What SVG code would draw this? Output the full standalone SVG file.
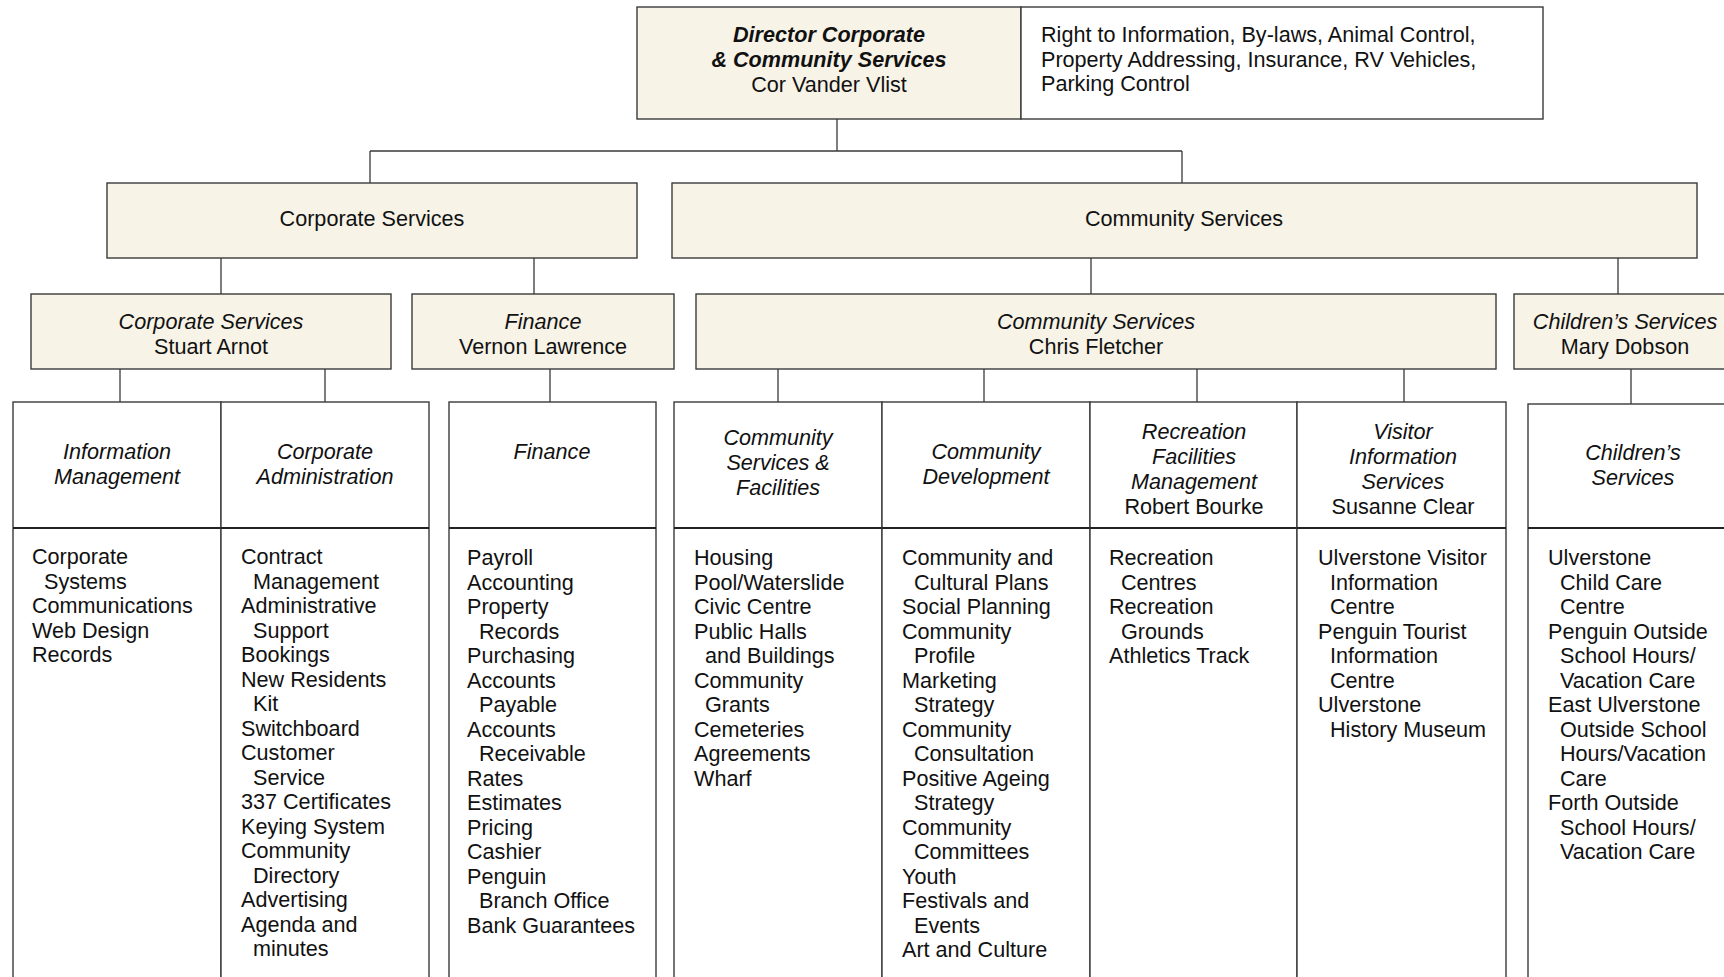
<svg xmlns="http://www.w3.org/2000/svg" width="1724" height="977" viewBox="0 0 1724 977">
  <style>
    text { font-family: "Liberation Sans", Arial, sans-serif; font-size: 21.6px; fill: #111; }
    .c { text-anchor: middle; }
    .i { font-style: italic; }
    .bi { font-style: italic; font-weight: bold; }
    .box { fill: #f7f3e7; stroke: #3a3a3a; stroke-width: 1.4; }
    .wbox { fill: #ffffff; stroke: #3a3a3a; stroke-width: 1.4; }
    .div { stroke: #3a3a3a; stroke-width: 1.4; fill: none; }
    .hdiv { stroke: #222; stroke-width: 1.8; fill: none; }
    .conn { stroke: #3a3a3a; stroke-width: 1.3; fill: none; }
  </style>

  <!-- connectors -->
  <g id="connectors">
    <path class="conn" d="M837 119 V151 M370 151 H1182 M370 151 V183 M1182 151 V183"/>
    <path class="conn" d="M221 258 V294 M534 258 V294 M1091 258 V294 M1618 258 V294"/>
    <path class="conn" d="M120 369 V402 M325 369 V402 M550 369 V402 M778 369 V402 M984 369 V402 M1197 369 V402 M1404 369 V402 M1631 369 V404"/>
  </g>

  <!-- director -->
  <g id="director">
    <rect class="box" x="637" y="7" width="384" height="112"/>
    <rect class="wbox" x="1021" y="7" width="522" height="112"/>
    <text class="c bi" x="829" y="42">Director Corporate</text>
    <text class="c bi" x="829" y="66.5">&amp; Community Services</text>
    <text class="c" x="829" y="91.5">Cor Vander Vlist</text>
    <text x="1041" y="42">Right to Information, By-laws, Animal Control,</text>
    <text x="1041" y="66.5">Property Addressing, Insurance, RV Vehicles,</text>
    <text x="1041" y="91">Parking Control</text>
  </g>

  <!-- second level -->
  <g id="corporate-services">
    <rect class="box" x="107" y="183" width="530" height="75"/>
    <text class="c" x="372" y="226">Corporate Services</text>
  </g>
  <g id="community-services">
    <rect class="box" x="672" y="183" width="1025" height="75"/>
    <text class="c" x="1184" y="226">Community Services</text>
  </g>

  <!-- third level -->
  <g id="corp-stuart-arnot">
    <rect class="box" x="31" y="294" width="360" height="75"/>
    <text class="c i" x="211" y="329">Corporate Services</text>
    <text class="c" x="211" y="353.5">Stuart Arnot</text>
  </g>
  <g id="finance-vernon-lawrence">
    <rect class="box" x="412" y="294" width="262" height="75"/>
    <text class="c i" x="543" y="329">Finance</text>
    <text class="c" x="543" y="353.5">Vernon Lawrence</text>
  </g>
  <g id="community-chris-fletcher">
    <rect class="box" x="696" y="294" width="800" height="75"/>
    <text class="c i" x="1096" y="329">Community Services</text>
    <text class="c" x="1096" y="353.5">Chris Fletcher</text>
  </g>
  <g id="childrens-mary-dobson">
    <rect class="box" x="1514" y="294" width="230" height="75"/>
    <text class="c i" x="1625" y="329">Children’s Services</text>
    <text class="c" x="1625" y="353.5">Mary Dobson</text>
  </g>

  <!-- fourth level: corporate group -->
  <g id="information-management">
    <rect class="wbox" x="13" y="402" width="208" height="600"/>
    <line class="hdiv" x1="13" y1="528" x2="221" y2="528"/>
    <text class="c i" x="117" y="459">Information</text>
    <text class="c i" x="117" y="483.5">Management</text>
    <text x="32" y="564">Corporate</text>
    <text x="44" y="588.5">Systems</text>
    <text x="32" y="613">Communications</text>
    <text x="32" y="637.5">Web Design</text>
    <text x="32" y="662">Records</text>
  </g>
  <g id="corporate-administration">
    <rect class="wbox" x="221" y="402" width="208" height="600"/>
    <line class="hdiv" x1="221" y1="528" x2="429" y2="528"/>
    <text class="c i" x="325" y="459">Corporate</text>
    <text class="c i" x="325" y="483.5">Administration</text>
    <text x="241" y="564">Contract</text>
    <text x="253" y="588.5">Management</text>
    <text x="241" y="613">Administrative</text>
    <text x="253" y="637.5">Support</text>
    <text x="241" y="662">Bookings</text>
    <text x="241" y="686.5">New Residents</text>
    <text x="253" y="711">Kit</text>
    <text x="241" y="735.5">Switchboard</text>
    <text x="241" y="760">Customer</text>
    <text x="253" y="784.5">Service</text>
    <text x="241" y="809">337 Certificates</text>
    <text x="241" y="833.5">Keying System</text>
    <text x="241" y="858">Community</text>
    <text x="253" y="882.5">Directory</text>
    <text x="241" y="907">Advertising</text>
    <text x="241" y="931.5">Agenda and</text>
    <text x="253" y="956">minutes</text>
  </g>

  <!-- fourth level: finance -->
  <g id="finance">
    <rect class="wbox" x="449" y="402" width="207" height="600"/>
    <line class="hdiv" x1="449" y1="528" x2="656" y2="528"/>
    <text class="c i" x="552" y="459">Finance</text>
    <text x="467" y="565">Payroll</text>
    <text x="467" y="589.5">Accounting</text>
    <text x="467" y="614">Property</text>
    <text x="479" y="638.5">Records</text>
    <text x="467" y="663">Purchasing</text>
    <text x="467" y="687.5">Accounts</text>
    <text x="479" y="712">Payable</text>
    <text x="467" y="736.5">Accounts</text>
    <text x="479" y="761">Receivable</text>
    <text x="467" y="785.5">Rates</text>
    <text x="467" y="810">Estimates</text>
    <text x="467" y="834.5">Pricing</text>
    <text x="467" y="859">Cashier</text>
    <text x="467" y="883.5">Penguin</text>
    <text x="479" y="908">Branch Office</text>
    <text x="467" y="932.5">Bank Guarantees</text>
  </g>

  <!-- fourth level: community group -->
  <g id="community-services-facilities">
    <rect class="wbox" x="674" y="402" width="208" height="600"/>
    <line class="hdiv" x1="674" y1="528" x2="882" y2="528"/>
    <text class="c i" x="778" y="445">Community</text>
    <text class="c i" x="778" y="470">Services &amp;</text>
    <text class="c i" x="778" y="494.5">Facilities</text>
    <text x="694" y="565">Housing</text>
    <text x="694" y="589.5">Pool/Waterslide</text>
    <text x="694" y="614">Civic Centre</text>
    <text x="694" y="638.5">Public Halls</text>
    <text x="705" y="663">and Buildings</text>
    <text x="694" y="687.5">Community</text>
    <text x="705" y="712">Grants</text>
    <text x="694" y="736.5">Cemeteries</text>
    <text x="694" y="761">Agreements</text>
    <text x="694" y="785.5">Wharf</text>
  </g>
  <g id="community-development">
    <rect class="wbox" x="882" y="402" width="208" height="600"/>
    <line class="hdiv" x1="882" y1="528" x2="1090" y2="528"/>
    <text class="c i" x="986" y="459">Community</text>
    <text class="c i" x="986" y="483.5">Development</text>
    <text x="902" y="565">Community and</text>
    <text x="914" y="589.5">Cultural Plans</text>
    <text x="902" y="614">Social Planning</text>
    <text x="902" y="638.5">Community</text>
    <text x="914" y="663">Profile</text>
    <text x="902" y="687.5">Marketing</text>
    <text x="914" y="712">Strategy</text>
    <text x="902" y="736.5">Community</text>
    <text x="914" y="761">Consultation</text>
    <text x="902" y="785.5">Positive Ageing</text>
    <text x="914" y="810">Strategy</text>
    <text x="902" y="834.5">Community</text>
    <text x="914" y="859">Committees</text>
    <text x="902" y="883.5">Youth</text>
    <text x="902" y="908">Festivals and</text>
    <text x="914" y="932.5">Events</text>
    <text x="902" y="957">Art and Culture</text>
  </g>
  <g id="recreation-facilities">
    <rect class="wbox" x="1090" y="402" width="207" height="600"/>
    <line class="hdiv" x1="1090" y1="528" x2="1297" y2="528"/>
    <text class="c i" x="1194" y="439">Recreation</text>
    <text class="c i" x="1194" y="464">Facilities</text>
    <text class="c i" x="1194" y="489">Management</text>
    <text class="c" x="1194" y="514">Robert Bourke</text>
    <text x="1109" y="565">Recreation</text>
    <text x="1121" y="589.5">Centres</text>
    <text x="1109" y="614">Recreation</text>
    <text x="1121" y="638.5">Grounds</text>
    <text x="1109" y="663">Athletics Track</text>
  </g>
  <g id="visitor-information">
    <rect class="wbox" x="1297" y="402" width="209" height="600"/>
    <line class="hdiv" x1="1297" y1="528" x2="1506" y2="528"/>
    <text class="c i" x="1403" y="439">Visitor</text>
    <text class="c i" x="1403" y="464">Information</text>
    <text class="c i" x="1403" y="489">Services</text>
    <text class="c" x="1403" y="514">Susanne Clear</text>
    <text x="1318" y="565">Ulverstone Visitor</text>
    <text x="1330" y="589.5">Information</text>
    <text x="1330" y="614">Centre</text>
    <text x="1318" y="638.5">Penguin Tourist</text>
    <text x="1330" y="663">Information</text>
    <text x="1330" y="687.5">Centre</text>
    <text x="1318" y="712">Ulverstone</text>
    <text x="1330" y="736.5">History Museum</text>
  </g>

  <!-- fourth level: children's services -->
  <g id="childrens-services">
    <rect class="wbox" x="1528" y="404" width="220" height="600"/>
    <line class="hdiv" x1="1528" y1="528" x2="1748" y2="528"/>
    <text class="c i" x="1633" y="460">Children’s</text>
    <text class="c i" x="1633" y="485">Services</text>
    <text x="1548" y="565">Ulverstone</text>
    <text x="1560" y="589.5">Child Care</text>
    <text x="1560" y="614">Centre</text>
    <text x="1548" y="638.5">Penguin Outside</text>
    <text x="1560" y="663">School Hours/</text>
    <text x="1560" y="687.5">Vacation Care</text>
    <text x="1548" y="712">East Ulverstone</text>
    <text x="1560" y="736.5">Outside School</text>
    <text x="1560" y="761">Hours/Vacation</text>
    <text x="1560" y="785.5">Care</text>
    <text x="1548" y="810">Forth Outside</text>
    <text x="1560" y="834.5">School Hours/</text>
    <text x="1560" y="859">Vacation Care</text>
  </g>
</svg>
